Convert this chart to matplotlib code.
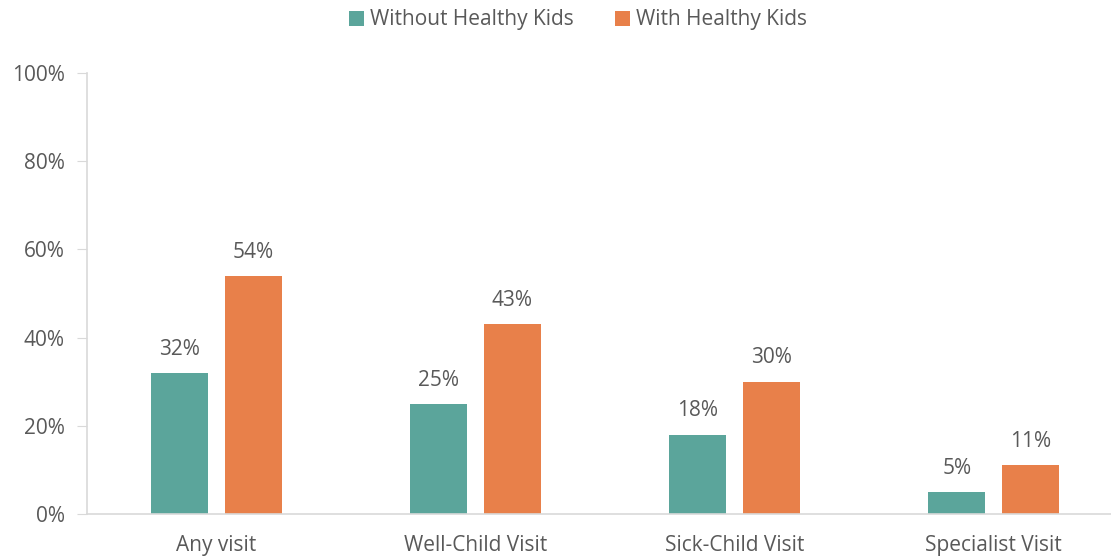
import numpy as np
import matplotlib.pyplot as plt

categories = ["Any visit", "Well-Child Visit", "Sick-Child Visit", "Specialist Visit"]
without_hk = [32, 25, 18, 5]
with_hk = [54, 43, 30, 11]
series_names = ["Without Healthy Kids", "With Healthy Kids"]
y_ticks = [0, 20, 40, 60, 80, 100]

TEAL = "#5BA59B"
ORANGE = "#E8804A"
TEXT = "#595959"
GRID = "#D9D9D9"
FS = 15

plt.rcParams['font.family'] = ['Open Sans', 'DejaVu Sans']

fig = plt.figure(figsize=(11.11, 5.58), dpi=100)
ax = fig.add_axes([87 / 1111, 1 - 514 / 558, 1036 / 1111, 441 / 558])

x = np.arange(len(categories))
w = 0.22
off = 0.142
b1 = ax.bar(x - off, without_hk, w, color=TEAL, label=series_names[0])
b2 = ax.bar(x + off, with_hk, w, color=ORANGE, label=series_names[1])

for bars, vals in ((b1, without_hk), (b2, with_hk)):
    for b, v in zip(bars, vals):
        ax.text(b.get_x() + b.get_width() / 2, v + 3.0, f"{v}%",
                ha="center", va="bottom", fontsize=FS, color=TEXT)

ax.set_xlim(-0.5, len(categories) - 0.5)
ax.set_ylim(0, 100)
ax.set_yticks(y_ticks)
ax.set_yticklabels([f"{t}%" for t in y_ticks])
ax.set_xticks(x)
ax.set_xticklabels(categories)
ax.tick_params(axis="y", colors=GRID, labelcolor=TEXT, labelsize=FS, length=7, pad=9)
ax.tick_params(axis="x", length=0, labelcolor=TEXT, labelsize=FS, pad=15)

for s in ("top", "right"):
    ax.spines[s].set_visible(False)
ax.spines["left"].set_color(GRID)
ax.spines["bottom"].set_color(GRID)
ax.spines["left"].set_linewidth(1.2)
ax.spines["bottom"].set_linewidth(1.2)

fig.legend(loc="center", bbox_to_anchor=(578 / 1111, 1 - 20 / 558), ncol=2,
           frameon=False, fontsize=FS, labelcolor=TEXT, handlelength=0.7,
           handleheight=0.7, handletextpad=0.3, columnspacing=2.0)

fig.savefig("out.png", dpi=100)
